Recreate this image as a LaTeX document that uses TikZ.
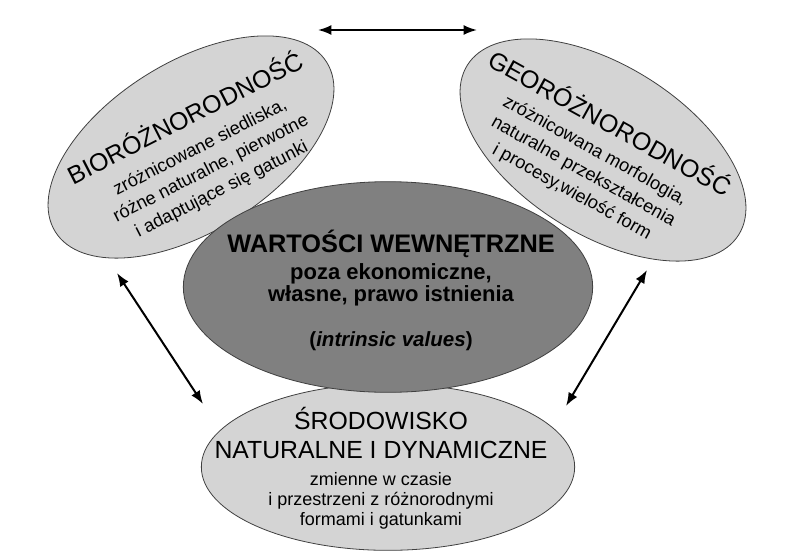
\documentclass[tikz,border=0pt]{standalone}
\usepackage{fontspec}
\setmainfont{Liberation Sans}
\usetikzlibrary{shapes.geometric,arrows.meta}
\definecolor{lightfill}{RGB}{212,212,212}
\definecolor{darkfill}{RGB}{128,128,128}
\tikzset{
  blob/.style={ellipse, draw=black!75, line width=0.6pt, inner sep=0pt},
  sideblob/.style={blob, fill=lightfill, minimum width=240pt, minimum height=127pt},
  twoway/.style={{Latex[length=10pt,width=7.5pt]}-{Latex[length=10pt,width=7.5pt]}, line width=1.5pt},
  sidetitle/.style={font=\fontsize{18.7}{22}\selectfont, inner sep=0pt},
  sidebody/.style={font=\fontsize{13.7}{17.8}\selectfont, align=center, inner sep=0pt},
  valtitle/.style={font=\bfseries\fontsize{19}{22}\selectfont, inner sep=0pt},
  valbody/.style={font=\bfseries\fontsize{16.5}{16.5}\selectfont, align=center, inner sep=0pt},
  valnote/.style={font=\bfseries\fontsize{15.4}{16.3}\selectfont, inner sep=0pt},
  envtitle/.style={font=\fontsize{18.6}{21.75}\selectfont, align=center, inner sep=0pt},
  envbody/.style={font=\fontsize{13.5}{15}\selectfont, align=center, inner sep=0pt}
}

\begin{document}
\begin{tikzpicture}[x=0.75pt,y=-0.75pt]
  \useasboundingbox (0,0) rectangle (789,550);
  \node[sideblob, rotate=32] (bio) at (191,147) {};
  \node[sideblob, rotate=-32] (geo) at (603,150) {};
  \node[blob, fill=lightfill, minimum width=280pt, minimum height=125pt] (env) at (388,467) {};
  \node[blob, fill=darkfill, minimum width=307pt, minimum height=158pt] (val) at (388,287) {};

  \begin{scope}[shift={(202,151)}, rotate=27, transform shape]
    \node[sidetitle, anchor=base] (biotitle) at (0,-28) {BIORÓŻNORODNOŚĆ};
    \node[sidebody] (biobody) at (0,20) {zróżnicowane siedliska,\\różne naturalne, pierwotne\\i adaptujące się gatunki};
  \end{scope}
  \begin{scope}[shift={(592,156)}, rotate=-29, transform shape]
    \node[sidetitle, anchor=base] (geotitle) at (0,-28) {GEORÓŻNORODNOŚĆ};
    \node[sidebody] (geobody) at (0,18) {zróżnicowana morfologia,\\naturalne przekształcenia\\i procesy,wielość form};
  \end{scope}

  \node[valtitle, anchor=base] (valhead) at (391,252) {WARTOŚCI WEWNĘTRZNE};
  \node[valbody] (valtext) at (391,285) {poza ekonomiczne,\\własne, prawo istnienia};
  \node[valnote, anchor=base] (valsub) at (391,346) {(\textit{intrinsic values})};

  \node[envtitle] (envhead) at (381,433) {ŚRODOWISKO\\NATURALNE I DYNAMICZNE};
  \node[envbody] (envtext) at (381,501) {zmienne w czasie\\i przestrzeni z różnorodnymi\\formami i gatunkami};

  \coordinate (topl) at (318,30);
  \coordinate (topr) at (477,30);
  \coordinate (leftup) at (117,273);
  \coordinate (leftdown) at (203,404);
  \coordinate (rightup) at (647,270);
  \coordinate (rightdown) at (566,406);
  \draw[twoway] (topl) -- (topr);
  \draw[twoway] (leftup) -- (leftdown);
  \draw[twoway] (rightup) -- (rightdown);
\end{tikzpicture}
\end{document}
